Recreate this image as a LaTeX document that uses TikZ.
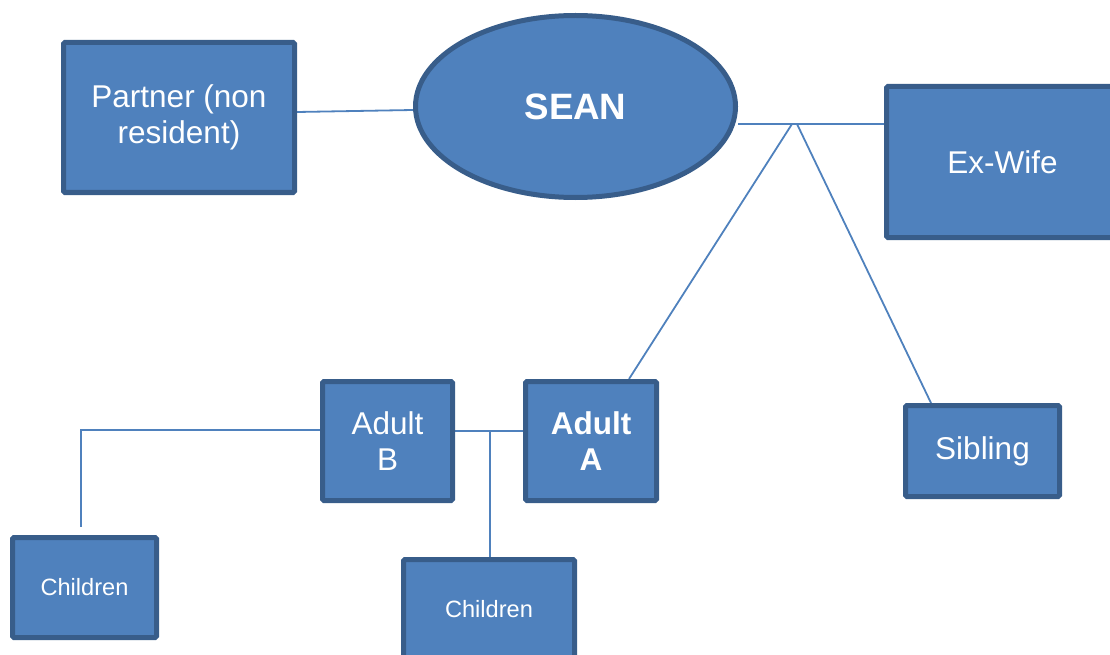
\documentclass[tikz,border=0pt]{standalone}
\usepackage{fontspec}
\setmainfont{Liberation Sans}
\usetikzlibrary{shapes.geometric}
\definecolor{boxfill}{HTML}{4F81BD}
\definecolor{boxline}{HTML}{385D8A}
\definecolor{linkcol}{HTML}{4F81BD}
\pgfdeclarelayer{background}
\pgfsetlayers{background,main}
\tikzset{
  famnode/.style={draw=boxline, fill=boxfill, line width=5pt, text=white, align=center, inner sep=0pt},
  boxnode/.style={famnode, rectangle, rounded corners=1.5pt},
  bigtext/.style={font=\fontsize{31.5}{36}\selectfont},
  smalltext/.style={font=\fontsize{23.6}{27}\selectfont},
  link/.style={draw=linkcol, line width=1.8pt}
}
\begin{document}
\begin{tikzpicture}[x=1pt,y=-1pt]
\useasboundingbox (0,0) rectangle (1110,655);
\node[boxnode, bigtext, minimum width=231pt, minimum height=150pt] (partner) at (179,117.5) {Partner (non\\resident)};
\node[famnode, ellipse, minimum width=320pt, minimum height=182pt, font=\fontsize{36.7}{40}\selectfont\bfseries] (sean) at (575.5,106.5) {SEAN};
\node[boxnode, bigtext, minimum width=232pt, minimum height=151pt] (exwife) at (1002.5,162) {Ex-Wife};
\node[boxnode, bigtext, minimum width=130pt, minimum height=119pt] (adultB) at (387.5,441) {Adult\\B};
\node[boxnode, bigtext, font=\fontsize{31.5}{36}\selectfont\bfseries, minimum width=131pt, minimum height=119pt] (adultA) at (591,441) {Adult\\A};
\node[boxnode, bigtext, minimum width=154pt, minimum height=91pt] (sibling) at (982.5,451) {Sibling};
\node[boxnode, smalltext, minimum width=144pt, minimum height=100pt] (child1) at (84.5,587.5) {Children};
\node[boxnode, smalltext, minimum width=171pt, minimum height=99pt] (child2) at (489,609) {Children};
\coordinate (j) at (796,124);
\coordinate (jl) at (792,124);
\coordinate (jr) at (797,124);
\coordinate (k) at (490,431);
\coordinate (c1end) at (81,527);
\begin{pgfonlayer}{background}
\draw[link] ([yshift=5.5pt]partner.east) -- ([yshift=-3.5pt]sean.west);
\draw[link] (j -| sean.east) -- (j -| exwife.west);
\draw[link] (jl) -- ([xshift=38pt]adultA.north);
\draw[link] (jr) -- ([xshift=-51.5pt]sibling.north);
\draw[link] ([yshift=10pt]adultB.east) -- ([yshift=10pt]adultA.west);
\draw[link] (k) -- (k |- child2.north);
\draw[link] ([yshift=11pt]adultB.west) -| (c1end);
\end{pgfonlayer}
\end{tikzpicture}
\end{document}
